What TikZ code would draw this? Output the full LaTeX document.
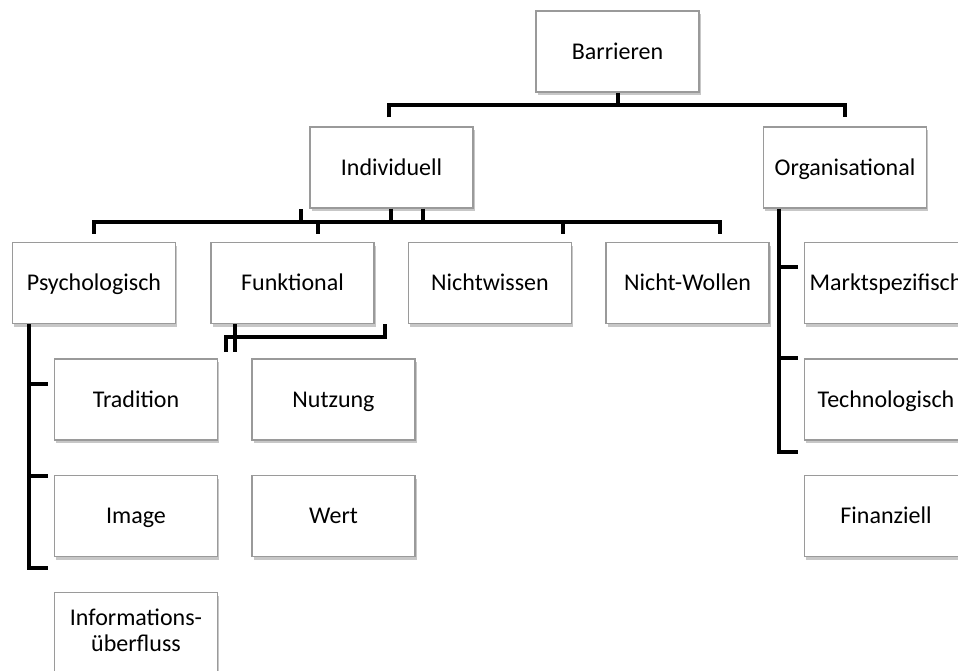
\documentclass[tikz,border=0pt]{standalone}
\usepackage{fontspec}
\setmainfont{Carlito}
\usetikzlibrary{shadows,calc}
\definecolor{boxline}{HTML}{9A9A9A}
\begin{document}
\begin{tikzpicture}[x=1pt,y=-1pt,
  box/.style={draw=boxline, line width=1.2pt, fill=white, minimum width=163pt, minimum height=81pt,
    inner sep=0pt, align=center, font=\fontsize{24}{25.5}\selectfont, text height=20pt, text depth=5pt,
    drop shadow={shadow xshift=1.5pt, shadow yshift=-3pt, opacity=0.22, fill=black}},
  conn/.style={draw=black, line width=4pt, line join=miter}]
\useasboundingbox (0,0) rectangle (958,670);
\clip (0,0) rectangle (958,670);
\fill[white] (0,0) rectangle (958,670);

% level 0/1
\node[box] (bar) at (617.5,51.5) {Barrieren};
\node[box] (ind) at (391.5,167.5) {Individuell};
\node[box] (org) at (845,167.5) {Organisational};

% level 2
\node[box] (psy) at (94,283) {Psychologisch};
\node[box] (fun) at (292.5,283) {Funktional};
\node[box] (nic) at (490,283) {Nichtwissen};
\node[box] (now) at (687.5,283) {Nicht-Wollen};
\node[box] (mar) at (886,283) {Marktspezifisch};

% level 3
\node[box] (tra) at (136,399.5) {Tradition};
\node[box] (nut) at (333.5,399.5) {Nutzung};
\node[box] (tec) at (886,399.5) {Technologisch};

% level 4
\node[box] (ima) at (136,516) {Image};
\node[box] (wer) at (333.5,516) {Wert};
\node[box] (fin) at (886,516) {Finanziell};

% level 5
\node[box, text height=41pt, text depth=5pt] (inf) at (136,633) {Informations-\\überfluss};

% connectors: Barrieren
\draw[conn] (bar.south) -- ++(0,14);
\draw[conn] ($(ind.north)+(-2.5,-9)$) |- ($(org.north)+(0,-21)$) -- ($(org.north)+(0,-9)$);

% connectors: Individuell
\coordinate (stray) at (301,209);
\draw[conn] ($(ind.south)+(-0.5,0)$) -- ++(0,15);
\draw[conn] ($(ind.south)+(31.5,0)$) -- ++(0,15);
\draw[conn] (stray) -- ++(0,13);
\draw[conn] ($(psy.north)+(0,-8)$) |- ($(now.north)+(32.5,-20)$) -- ($(now.north)+(32.5,-8)$);
\draw[conn] ($(fun.north)+(25.5,-20)$) -- ($(fun.north)+(25.5,-8)$);
\draw[conn] ($(nic.north)+(73,-20)$) -- ($(nic.north)+(73,-8)$);

% connectors: Funktional
\draw[conn] ($(fun.south west)+(16,28)$) |- ($(fun.south east)+(10,13)$) -- ($(fun.south east)+(10,0)$);
\draw[conn] ($(fun.south west)+(25,0)$) -- ($(fun.south west)+(25,28)$);

% connectors: Psychologisch
\coordinate (pv) at ($(psy.south west)+(17,0)$);
\draw[conn] (pv) |- ($(ima.south west)+(-6,11)$);
\draw[conn] (pv |- tra.west) ++(0,-16) -- ($(tra.west)+(-6,-16)$);
\draw[conn] (pv |- ima.north west) ++(0,1) -- ($(ima.north west)+(-6,1)$);

% connectors: Organisational
\coordinate (ov) at ($(org.south west)+(16,0)$);
\draw[conn] (ov) |- ($(tec.south west)+(-6,11)$);
\draw[conn] (ov |- mar.west) ++(0,-16) -- ($(mar.west)+(-6,-16)$);
\draw[conn] (ov |- tec.north west) -- ($(tec.north west)+(-6,0)$);
\end{tikzpicture}
\end{document}
